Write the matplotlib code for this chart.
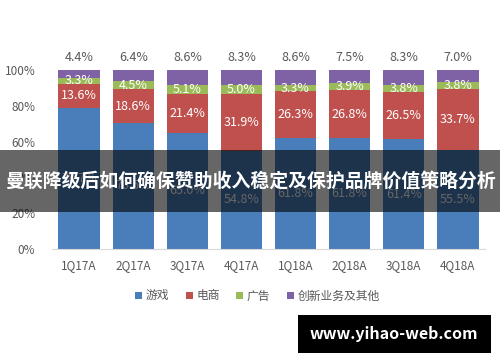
import numpy as np
import matplotlib
matplotlib.use('Agg')
from matplotlib import pyplot as plt
from matplotlib.patches import Rectangle

plt.rcParams['font.family'] = ['Noto Sans CJK SC', 'DejaVu Sans']

# 数据
quarters = ['1Q17A', '2Q17A', '3Q17A', '4Q17A', '1Q18A', '2Q18A', '3Q18A', '4Q18A']
games = [78.7, 70.5, 65.0, 54.8, 61.8, 61.8, 61.4, 55.5]
ecommerce = [13.6, 18.6, 21.4, 31.9, 26.3, 26.8, 26.5, 33.7]
ads = [3.3, 4.5, 5.1, 5.0, 3.3, 3.9, 3.8, 3.8]
others = [4.4, 6.4, 8.6, 8.3, 8.6, 7.5, 8.3, 7.0]

series_names = ['游戏', '电商', '广告', '创新业务及其他']
colors = ['#4a7ebb', '#c0504d', '#9bbb59', '#7f62a6']

fig = plt.figure(figsize=(5, 3.62), dpi=100)
ax = fig.add_axes([0.104, 0.312, 0.866, 0.495])

x = np.arange(len(quarters))
bottom = np.zeros(len(quarters))
for name, vals, c in zip(series_names, [games, ecommerce, ads, others], colors):
    bars = ax.bar(x, vals, 0.76, bottom=bottom, color=c, label=name)
    if name == '创新业务及其他':
        # 最上面一段的数值放在柱子顶端
        ax.bar_label(bars, labels=[f'{v:.1f}%' for v in vals], padding=4,
                     color='#595959', fontsize=9)
    else:
        ax.bar_label(bars, labels=[f'{v:.1f}%' for v in vals], label_type='center',
                     color='white', fontsize=9)
    bottom += np.array(vals)

ax.set_xlim(-0.5, len(quarters) - 0.5)
ax.set_ylim(0, 100)
ax.set_yticks([0, 20, 40, 60, 80, 100])
ax.set_yticklabels(['0%', '20%', '40%', '60%', '80%', '100%'])
ax.set_xticks(x)
ax.set_xticklabels(quarters)
ax.tick_params(axis='both', length=0, colors='#595959', labelsize=8.5)
ax.tick_params(axis='y', pad=12)
ax.tick_params(axis='x', pad=7)
for s in ['top', 'right', 'left']:
    ax.spines[s].set_visible(False)
ax.spines['bottom'].set_color('#d9d9d9')

fig.legend(loc='center', bbox_to_anchor=(0.515, 1 - 296 / 362), ncol=4,
           frameon=False, fontsize=8.5, handlelength=0.6, handleheight=0.6,
           handletextpad=0.3, columnspacing=1.4, labelcolor='#595959')

# 半透明标题横幅
fig.patches.append(Rectangle((0, 1 - 212 / 362), 1, 62 / 362, transform=fig.transFigure,
                             facecolor='black', alpha=0.6, zorder=10))
fig.text(0.5, 1 - 181 / 362, '曼联降级后如何确保赞助收入稳定及保护品牌价值策略分析',
         ha='center', va='center', color='white', fontsize=13.6, fontweight='bold', zorder=11)

# 水印
fig.patches.append(Rectangle((298 / 500, 1 - 353 / 362), 193 / 500, 38 / 362,
                             transform=fig.transFigure, facecolor='black', zorder=10))
fig.text(394 / 500, 1 - 334 / 362, 'www.yihao-web.com', ha='center', va='center',
         color='white', fontsize=11.5, fontweight='bold', zorder=11)

fig.savefig('out.png', dpi=100)
